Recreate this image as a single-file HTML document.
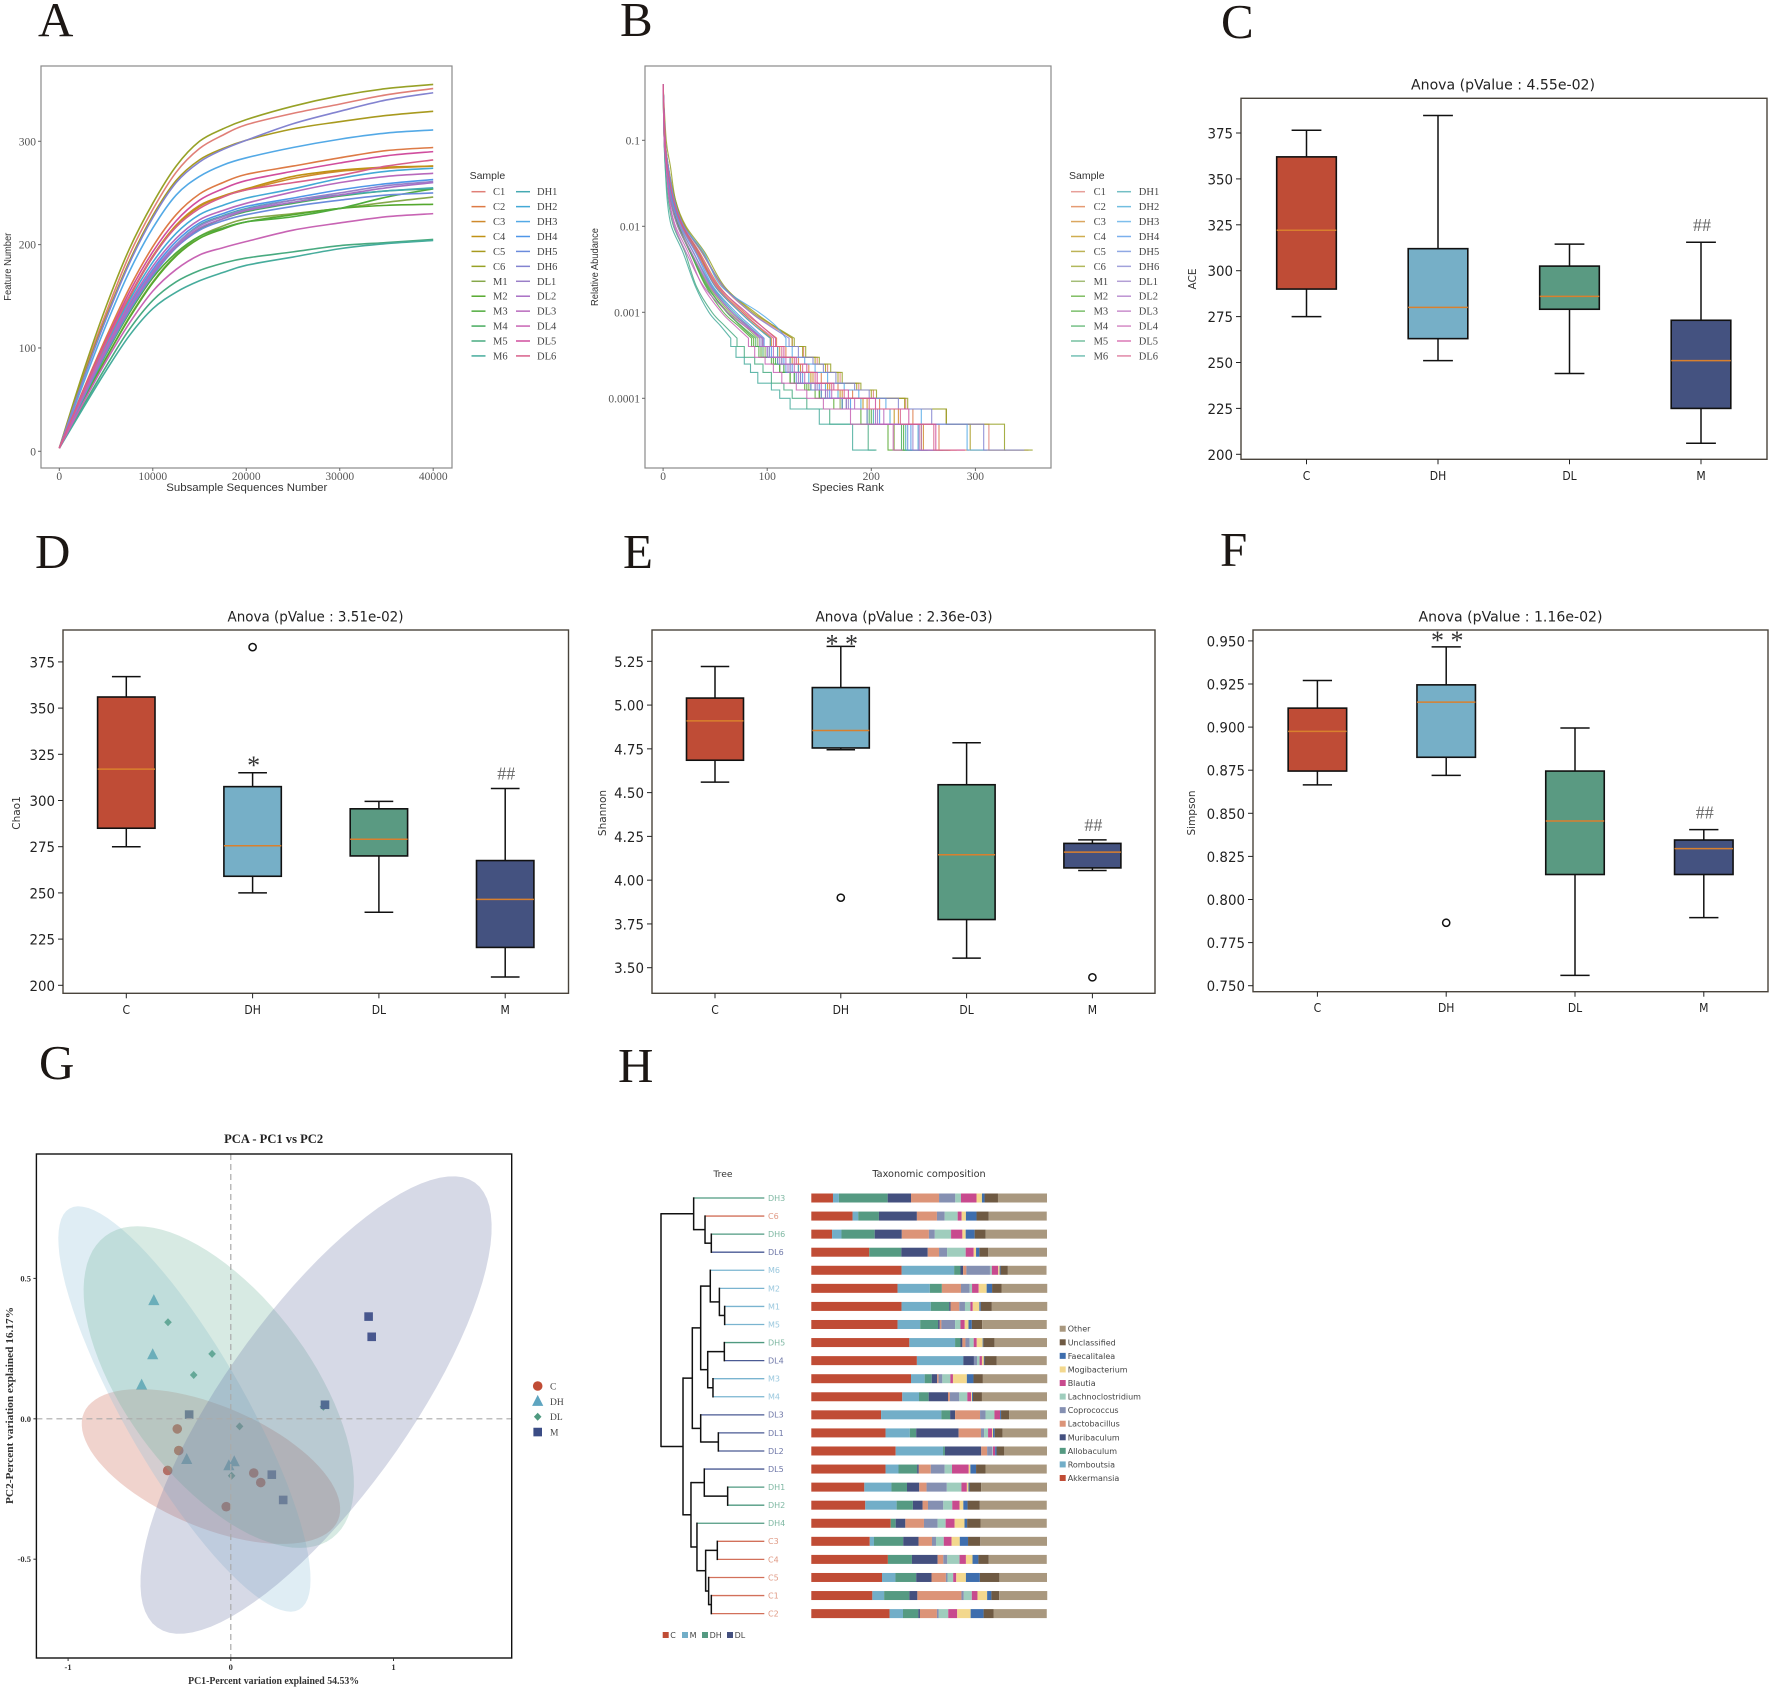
<!DOCTYPE html>
<html lang="en">
<head>
<meta charset="utf-8">
<title>Microbiome diversity figure panels A–H</title>
<style>
html,body{margin:0;padding:0;background:#fff;}
svg{display:block;filter:blur(0.35px);}
.serif{font-family:"Liberation Serif",serif;}
.sans{font-family:"Liberation Sans",sans-serif;}
.dj{font-family:"DejaVu Sans",sans-serif;}
.letter{font-family:"Liberation Serif",serif;font-size:49px;fill:#1c1714;}
</style>
</head>
<body>
<svg id="figure" xmlns="http://www.w3.org/2000/svg" width="1772" height="1689" viewBox="0 0 1772 1689">
<rect x="0" y="0" width="1772" height="1689" fill="#fff"/>
<text class="letter" x="38" y="36">A</text>
<text class="letter" x="620" y="36">B</text>
<text class="letter" x="1221" y="38">C</text>
<text class="letter" x="35" y="568">D</text>
<text class="letter" x="623" y="568">E</text>
<text class="letter" x="1220" y="566">F</text>
<text class="letter" x="39" y="1079">G</text>
<text class="letter" x="618" y="1082">H</text>

<text class="sans" x="246.8" y="491" text-anchor="middle" font-size="11" fill="#333" textLength="161" lengthAdjust="spacingAndGlyphs">Subsample Sequences Number</text>
<text class="sans" transform="translate(11,266.7) rotate(-90)" text-anchor="middle" font-size="10" fill="#333" textLength="68" lengthAdjust="spacingAndGlyphs">Feature Number</text>
<text class="sans" x="469.6" y="179" font-size="10.5" fill="#333">Sample</text>
<text class="sans" x="848" y="491" text-anchor="middle" font-size="11" fill="#333" textLength="72" lengthAdjust="spacingAndGlyphs">Species Rank</text>
<text class="sans" transform="translate(598,267) rotate(-90)" text-anchor="middle" font-size="10" fill="#333" textLength="78" lengthAdjust="spacingAndGlyphs">Relative Abudance</text>
<text class="sans" x="1069" y="179" font-size="10.5" fill="#333">Sample</text>

<text class="dj" x="1503" y="89.5" text-anchor="middle" font-size="14.5" fill="#222" textLength="184" lengthAdjust="spacingAndGlyphs">Anova (pValue : 4.55e-02)</text>
<text class="dj" transform="translate(1196,279) rotate(-90)" text-anchor="middle" font-size="10.5" fill="#333">ACE</text>
<text class="dj" x="315.5" y="621.5" text-anchor="middle" font-size="14.5" fill="#222" textLength="176" lengthAdjust="spacingAndGlyphs">Anova (pValue : 3.51e-02)</text>
<text class="dj" transform="translate(20,813) rotate(-90)" text-anchor="middle" font-size="10.5" fill="#333">Chao1</text>
<text class="dj" x="904" y="621.5" text-anchor="middle" font-size="14.5" fill="#222" textLength="177" lengthAdjust="spacingAndGlyphs">Anova (pValue : 2.36e-03)</text>
<text class="dj" transform="translate(606,813) rotate(-90)" text-anchor="middle" font-size="10.5" fill="#333">Shannon</text>
<text class="dj" x="1510.5" y="621.5" text-anchor="middle" font-size="14.5" fill="#222" textLength="184" lengthAdjust="spacingAndGlyphs">Anova (pValue : 1.16e-02)</text>
<text class="dj" transform="translate(1195,813) rotate(-90)" text-anchor="middle" font-size="10.5" fill="#333">Simpson</text>

<text class="serif" x="273.6" y="1143" text-anchor="middle" font-size="13" font-weight="bold" fill="#222" textLength="99" lengthAdjust="spacingAndGlyphs">PCA - PC1 vs PC2</text>
<text class="serif" x="273.6" y="1684" text-anchor="middle" font-size="10.5" font-weight="bold" fill="#333" textLength="171" lengthAdjust="spacingAndGlyphs">PC1-Percent variation explained 54.53%</text>
<text class="serif" transform="translate(13,1405.5) rotate(-90)" text-anchor="middle" font-size="10.5" font-weight="bold" fill="#333" textLength="197" lengthAdjust="spacingAndGlyphs">PC2-Percent variation explained 16.17%</text>

<text class="dj" x="723" y="1177" text-anchor="middle" font-size="9.2" fill="#333">Tree</text>
<text class="dj" x="929" y="1177" text-anchor="middle" font-size="9.7" fill="#333">Taxonomic composition</text>
</svg>

<script>
/* ---------- Panel A: rarefaction curves ---------- */
const sampleNames = ['C1','C2','C3','C4','C5','C6','M1','M2','M3','M4','M5','M6','DH1','DH2','DH3','DH4','DH5','DH6','DL1','DL2','DL3','DL4','DL5','DL6'];
const sampleColors = ['#e07f77','#dd7a45','#cf8a2c','#c09216','#a89a1e','#97a126','#86a84a','#55a82e','#4fab3c','#47ab5e','#48aa80','#46ac9c','#45aab2','#43a9d6','#53a9e6','#4f96e8','#6a8bdc','#8383d0','#9a7fc8','#a86fc4','#b869bc','#c864b4','#d04d9e','#d8608a'];
const rarefactionDepths = [0,2500,5000,7500,10000,12500,15000,17500,20000,25000,30000,35000,40000];
const rarefactionC1  = [3,72,134,190,234,270,293,306,316,327,336,345,351];
const rarefactionC2  = [3,58,110,158,198,229,249,260,268,276,284,291,294];
const rarefactionC3  = [3,56,105,150,189,219,238,247,253,264,271,274,276];
const rarefactionC4  = [3,55,104,149,188,218,237,247,254,266,272,275,276];
const rarefactionC5  = [3,70,130,184,228,262,282,293,301,312,319,325,329];
const rarefactionC6  = [3,75,140,196,240,276,300,312,321,334,344,351,355];
const rarefactionM1  = [3,48,90,130,164,190,208,218,225,230,235,241,246];
const rarefactionM2  = [3,48,90,129,163,189,206,215,222,229,235,238,239];
const rarefactionM3  = [3,50,94,134,168,192,208,216,222,227,235,246,254];
const rarefactionM4  = [3,50,94,135,170,198,215,225,232,240,247,252,254];
const rarefactionM5  = [3,43,82,118,146,164,175,182,187,193,199,202,205];
const rarefactionM6  = [3,41,78,112,138,154,165,173,180,188,196,201,204];
const rarefactionDH1 = [3,50,95,136,172,200,219,228,235,243,248,252,255];
const rarefactionDH2 = [3,54,102,146,183,211,229,238,245,254,264,271,274];
const rarefactionDH3 = [3,64,122,174,216,248,266,277,284,294,302,308,311];
const rarefactionDH4 = [3,53,99,141,176,203,221,230,237,245,253,259,263];
const rarefactionDH5 = [3,51,96,136,170,197,214,223,229,237,243,248,250];
const rarefactionDH6 = [3,68,128,182,226,260,280,292,301,317,329,340,347];
const rarefactionDL1 = [3,52,98,139,174,200,218,227,234,243,250,257,261];
const rarefactionDL2 = [3,52,97,138,172,198,216,225,233,241,248,255,260];
const rarefactionDL3 = [3,54,100,143,179,206,224,233,240,251,260,266,269];
const rarefactionDL4 = [3,46,87,124,155,176,190,197,203,214,221,227,230];
const rarefactionDL5 = [3,57,107,154,193,223,243,254,262,271,279,286,290];
const rarefactionDL6 = [3,56,105,150,188,217,235,246,253,260,267,276,282];
const rarefactionSeries = [rarefactionC1,rarefactionC2,rarefactionC3,rarefactionC4,rarefactionC5,rarefactionC6,rarefactionM1,rarefactionM2,rarefactionM3,rarefactionM4,rarefactionM5,rarefactionM6,rarefactionDH1,rarefactionDH2,rarefactionDH3,rarefactionDH4,rarefactionDH5,rarefactionDH6,rarefactionDL1,rarefactionDL2,rarefactionDL3,rarefactionDL4,rarefactionDL5,rarefactionDL6];
const rarefactionXTicks = [0,10000,20000,30000,40000];
const rarefactionYTicks = [0,100,200,300];

/* ---------- Panel B: rank abundance ---------- */
const rankStartAbundance = 0.45;
const rankAbundanceLevels = [0.1,0.05,0.02,0.01,0.005,0.002,0.001,0.0007,0.0005,0.0004,0.0003,0.00025,0.0002,0.00015,0.000125,0.0001,0.000075,0.00005,0.000025];
const rankC1  = [2,5,11,21,37,57,84,104,124,135,148,158,170,188,202,233,272,313,351];
const rankC2  = [2,4,10,19,35,54,78,94,109,118,130,140,152,168,182,208,240,265,294];
const rankC3  = [2,4,10,18,33,52,76,90,104,112,124,132,144,160,172,196,226,250,276];
const rankC4  = [2,5,11,19,34,50,74,88,103,110,122,130,142,158,170,192,222,248,276];
const rankC5  = [2,5,12,21,38,58,88,106,124,134,146,156,168,186,200,232,272,295,329];
const rankC6  = [3,7,12,22,40,59,86,106,126,137,150,161,172,190,205,235,272,328,355];
const rankM1  = [1,3,8,15,27,44,64,78,91,98,110,116,126,140,150,170,196,222,246];
const rankM2  = [1,3,8,15,26,42,62,74,87,94,106,112,122,136,146,164,190,216,239];
const rankM3  = [1,3,7,14,26,41,58,72,85,92,104,112,122,138,150,172,200,231,254];
const rankM4  = [2,3,8,15,26,43,61,75,89,96,108,116,126,142,152,172,198,229,254];
const rankM5  = [1,2,5,10,21,32,47,59,71,78,88,96,104,116,124,138,160,197,205];
const rankM6  = [1,2,4,8,19,31,44,55,65,70,78,84,91,104,112,122,150,182,204];
const rankDH1 = [2,3,9,16,29,47,68,82,95,102,114,122,132,146,156,176,202,233,255];
const rankDH2 = [2,4,9,18,32,50,74,88,103,110,122,130,140,156,168,190,218,245,274];
const rankDH3 = [2,5,11,20,39,56,92,108,118,124,136,146,158,174,188,214,248,292,311];
const rankDH4 = [2,4,9,17,31,48,70,84,97,104,116,124,134,150,160,180,208,238,263];
const rankDH5 = [2,3,8,16,29,46,66,80,93,100,110,118,128,142,152,172,196,235,250];
const rankDH6 = [2,5,11,20,37,58,84,102,121,130,144,154,166,184,198,226,258,308,347];
const rankDL1 = [2,3,8,16,29,46,66,81,95,102,114,122,132,148,158,178,206,240,261];
const rankDL2 = [2,3,7,14,27,45,66,80,93,100,112,120,130,146,156,176,204,246,260];
const rankDL3 = [1,3,6,11,22,39,62,78,96,106,118,126,136,152,162,184,212,248,269];
const rankDL4 = [1,3,6,12,24,38,56,69,82,88,98,106,114,128,138,154,180,221,230];
const rankDL5 = [2,4,10,19,34,53,80,94,108,116,128,138,148,164,178,204,236,262,290];
const rankDL6 = [2,4,10,18,32,51,76,91,106,114,126,134,146,162,174,198,228,260,282];
const rankSeries = [rankC1,rankC2,rankC3,rankC4,rankC5,rankC6,rankM1,rankM2,rankM3,rankM4,rankM5,rankM6,rankDH1,rankDH2,rankDH3,rankDH4,rankDH5,rankDH6,rankDL1,rankDL2,rankDL3,rankDL4,rankDL5,rankDL6];
const rankXTicks = [0,100,200,300];
const rankYTicks = [0.1,0.01,0.001,0.0001];
const rankYTickLabels = ['0.1','0.01','0.001','0.0001'];

/* ---------- Panels C–F: box plots ---------- */
const boxCategories = ['C','DH','DL','M'];
const boxColors = ['#bf4c36','#76afc7','#5a9a82','#445280'];

const aceLow = [275,251,244,206];
const aceQ1 = [290,263,279,225];
const aceMedian = [322,280,286,251];
const aceQ3 = [362,312,302.5,273];
const aceHigh = [376.5,384.5,314.5,315.5];
const aceOutliers = [[],[],[],[]];
const aceTicks = [200,225,250,275,300,325,350,375];
const aceTickLabels = ['200','225','250','275','300','325','350','375'];
const aceMarks = ['','','','##'];
const aceMarkValues = [0,0,0,325];

const chaoLow = [275,250,239.5,204.5];
const chaoQ1 = [285,259,270,220.5];
const chaoMedian = [317,275.5,279,246.5];
const chaoQ3 = [356,307.5,295.5,267.5];
const chaoHigh = [367,315,299.5,306.5];
const chaoOutliers = [[],[383],[],[]];
const chaoTicks = [200,225,250,275,300,325,350,375];
const chaoTickLabels = ['200','225','250','275','300','325','350','375'];
const chaoMarks = ['','*','','##'];
const chaoMarkValues = [0,322,0,314.5];

const shannonLow = [4.56,4.745,3.555,4.055];
const shannonQ1 = [4.685,4.755,3.775,4.07];
const shannonMedian = [4.91,4.855,4.145,4.16];
const shannonQ3 = [5.04,5.10,4.545,4.21];
const shannonHigh = [5.22,5.335,4.785,4.23];
const shannonOutliers = [[],[3.90],[],[3.445]];
const shannonTicks = [3.5,3.75,4,4.25,4.5,4.75,5,5.25];
const shannonTickLabels = ['3.50','3.75','4.00','4.25','4.50','4.75','5.00','5.25'];
const shannonMarks = ['','* *','','##'];
const shannonMarkValues = [0,5.38,0,4.315];

const simpsonLow = [0.8665,0.872,0.756,0.7895];
const simpsonQ1 = [0.8745,0.8825,0.8145,0.8145];
const simpsonMedian = [0.8975,0.9145,0.8455,0.8295];
const simpsonQ3 = [0.911,0.9245,0.8745,0.8345];
const simpsonHigh = [0.927,0.9465,0.8995,0.8405];
const simpsonOutliers = [[],[0.7865],[],[]];
const simpsonTicks = [0.75,0.775,0.8,0.825,0.85,0.875,0.9,0.925,0.95];
const simpsonTickLabels = ['0.750','0.775','0.800','0.825','0.850','0.875','0.900','0.925','0.950'];
const simpsonMarks = ['','* *','','##'];
const simpsonMarkValues = [0,0.9535,0,0.8505];

/* ---------- Panel G: PCA ---------- */
const pcaGroups = ['C','DH','DL','M'];
const pcaColors = ['#c04c35','#5ea5c0','#4f9a80','#3b4c85'];
const pcaFills = ['#c8604a','#8cc0d6','#6fb39b','#6a76a6'];
const pcaPc1C = [-0.329,-0.32,-0.388,0.141,0.184,-0.028];
const pcaPc2C = [-0.036,-0.113,-0.184,-0.193,-0.227,-0.313];
const pcaPc1DH = [-0.473,-0.48,-0.548,-0.271,-0.012,0.021];
const pcaPc2DH = [0.421,0.228,0.12,-0.145,-0.167,-0.153];
const pcaPc1DL = [-0.386,-0.115,-0.228,0.054,0.005,0.569];
const pcaPc2DL = [0.344,0.231,0.156,-0.027,-0.203,0.043];
const pcaPc1M = [0.847,0.866,0.579,-0.256,0.252,0.322];
const pcaPc2M = [0.364,0.292,0.05,0.015,-0.199,-0.289];
const pcaPc1 = [pcaPc1C,pcaPc1DH,pcaPc1DL,pcaPc1M];
const pcaPc2 = [pcaPc2C,pcaPc2DH,pcaPc2DL,pcaPc2M];
const ellipseCentreX = [-0.122,-0.285,-0.074,0.524];
const ellipseCentreY = [-0.170,0.035,0.113,0.049];
const ellipseMajorX = [0.781,0.706,0.697,0.976];
const ellipseMajorY = [-0.191,-0.714,-0.538,0.792];
const ellipseMinorX = [0.145,0.32,0.452,0.461];
const ellipseMinorY = [0.199,0.106,0.197,-0.191];
const pcaXTicks = [-1,0,1];
const pcaYTicks = [0.5,0,-0.5];
const pcaYTickLabels = ['0.5','0.0','-0.5'];

/* ---------- Panel H: dendrogram + composition ---------- */
const taxa = ['Akkermansia','Romboutsia','Allobaculum','Muribaculum','Lactobacillus','Coprococcus','Lachnoclostridium','Blautia','Mogibacterium','Faecalitalea','Unclassified','Other'];
const taxaColors = ['#c04c35','#72aec8','#559a82','#44507f','#dc9478','#8590b2','#9fcdbd','#c84a8e','#f3d88e','#3e6eae','#6f5a43','#a9987f'];
const compositionSamples = ['DH3','C6','DH6','DL6','M6','M2','M1','M5','DH5','DL4','M3','M4','DL3','DL1','DL2','DL5','DH1','DH2','DH4','C3','C4','C5','C1','C2'];
const compDH3 = [9.2,2.5,20.7,9.9,11.9,6.9,2.4,6.6,2.3,1.1,5.7,20.8];
const compC6 = [17.5,2.4,8.8,16.1,8.5,3.3,5.5,1.7,1.8,4.5,5.2,24.6];
const compDH6 = [8.8,4.0,14.1,11.5,11.5,2.5,6.9,4.8,1.4,3.8,4.7,26.0];
const compDL6 = [24.6,0,13.6,11.2,4.8,3.4,7.9,3.4,1.0,1.4,3.8,24.9];
const compM6 = [38.3,22.3,2.7,1.1,1.4,10.0,0.8,2.7,0.6,0.4,3.1,16.4];
const compM2 = [36.6,13.7,5.1,0,8.1,3.7,1.0,2.8,3.4,2.3,4.0,19.4];
const compM1 = [38.3,12.4,7.8,0.6,3.7,2.4,2.3,1.0,2.8,0.6,4.7,23.5];
const compM5 = [36.6,9.6,7.6,0.7,0.7,5.8,2.3,1.8,1.6,1.4,4.4,27.4];
const compDH5 = [41.6,19.4,2.3,0.8,1.3,1.8,1.7,1.3,2.5,0.3,4.7,22.3];
const compDL4 = [44.8,19.7,0,4.5,0,1.3,1.1,1.0,0.8,0.3,5.2,21.2];
const compM3 = [42.3,5.8,3.0,2.3,0.6,1.6,3.4,1.1,5.9,2.8,4.0,27.3];
const compM4 = [38.6,7.1,4.1,8.2,0.8,4.0,3.4,1.6,0.4,0.4,3.8,27.6];
const compDL3 = [29.6,25.6,3.7,2.1,10.6,2.3,3.8,2.4,0,0.4,3.4,16.1];
const compDL1 = [31.5,10.3,2.7,18.0,9.5,1.3,1.7,1.7,0.4,0.7,3.3,19.0];
const compDL2 = [35.8,20.1,0.8,15.4,2.5,2.1,0.3,1.0,0,0.6,3.3,18.1];
const compDL5 = [31.5,5.5,7.9,0.7,5.1,5.9,3.1,7.1,0.7,2.4,4.0,26.0];
const compDH1 = [22.5,11.5,6.6,5.2,3.1,8.6,6.2,2.3,0.7,0.4,5.0,27.9];
const compDH2 = [22.9,13.3,6.9,4.1,2.3,6.5,3.8,3.1,1.6,1.8,5.2,28.4];
const compDH4 = [33.7,0,2.1,4.1,7.9,5.8,3.4,3.8,4.2,1.1,5.7,28.1];
const compC3 = [24.8,1.8,12.4,6.5,5.7,1.7,3.3,3.3,3.5,3.5,5.2,28.3];
const compC4 = [32.5,0,10.2,10.9,2.4,1.7,5.2,2.7,2.8,2.5,4.4,24.6];
const compC5 = [30.0,5.7,8.8,6.5,6.1,0.7,2.4,1.3,4.1,5.9,8.3,20.2];
const compC1 = [25.9,5.0,10.7,3.4,18.7,1.0,3.4,2.4,4.1,1.8,3.3,20.4];
const compC2 = [33.2,5.7,6.5,0.7,7.2,0.8,4.0,3.8,5.7,5.5,4.2,22.6];
const compositionValues = [compDH3,compC6,compDH6,compDL6,compM6,compM2,compM1,compM5,compDH5,compDL4,compM3,compM4,compDL3,compDL1,compDL2,compDL5,compDH1,compDH2,compDH4,compC3,compC4,compC5,compC1,compC2];
/* nested clusters: [merge distance, left child, right child] */
const treeClusters = [1.00,
  [0.684,'DH3',[0.574,'C6',[0.513,'DH6','DL6']]],
  [0.787,
    [0.697,
      [0.616,
        [0.523,'M6',[0.435,'M2',[0.384,'M1','M5']]],
        [0.548,[0.387,'DH5','DL4'],[0.497,'M3','M4']]],
      [0.616,'DL3',[0.445,'DL1','DL2']]],
    [0.71,
      [0.581,'DL5',[0.355,'DH1','DH2']],
      [0.652,'DH4',[0.568,[0.455,'C3','C4'],[0.539,'C5',[0.513,'C1','C2']]]]]]];
const treeGroups = ['C','M','DH','DL'];
const treeGroupColors = ['#c04c35','#72aec8','#559a82','#44507f'];
const treeLineColors = {C:'#d2705a',M:'#7ab4d0',DH:'#4f9a80',DL:'#4a5a94'};
const treeLabelColors = {C:'#e09a85',M:'#9ac8de',DH:'#7fb8a3',DL:'#6f78a8'};

/* ---------- Drawing helpers ---------- */
const SVGNS = 'http://www.w3.org/2000/svg';
const root = document.getElementById('figure');
function mk(tag, attrs, text){
  const el = document.createElementNS(SVGNS, tag);
  for (const k in attrs) el.setAttribute(k, attrs[k]);
  if (text !== undefined) el.textContent = text;
  root.appendChild(el);
  return el;
}
function tallText(el, size){
  const w = el.getComputedTextLength();
  el.setAttribute('textLength', w.toFixed(2));
  el.setAttribute('lengthAdjust', 'spacingAndGlyphs');
  el.setAttribute('font-size', size);
}
function smoothPath(pts){
  let d = 'M' + pts[0][0].toFixed(2) + ' ' + pts[0][1].toFixed(2);
  for (let i = 0; i < pts.length - 1; i++){
    const p0 = pts[Math.max(i-1,0)], p1 = pts[i], p2 = pts[i+1], p3 = pts[Math.min(i+2,pts.length-1)];
    const c1x = p1[0] + (p2[0]-p0[0])/6, c1y = p1[1] + (p2[1]-p0[1])/6;
    const c2x = p2[0] - (p3[0]-p1[0])/6, c2y = p2[1] - (p3[1]-p1[1])/6;
    d += 'C' + c1x.toFixed(2) + ' ' + c1y.toFixed(2) + ' ' + c2x.toFixed(2) + ' ' + c2y.toFixed(2) + ' ' + p2[0].toFixed(2) + ' ' + p2[1].toFixed(2);
  }
  return d;
}
function sampleLegend(prefix, lineX, labelX, col2LineX, col2LabelX, opacity){
  sampleNames.forEach(function(name, i){
    const col = i < 12 ? 0 : 1;
    const row = i % 12;
    const y = 191.7 + row * 14.93;
    const lx = col ? col2LineX : lineX;
    const tx = col ? col2LabelX : labelX;
    const key = mk('line', {x1:lx, x2:lx+14, y1:y, y2:y, stroke:sampleColors[i], 'stroke-width':1.5, opacity:opacity});
    
    
    const label = mk('text', {x:tx, y:y+3.5, 'font-family':'"Liberation Serif",serif', 'font-size':10.5, fill:'#444'}, name);
    
    
  });
}

/* ---------- Panel A ---------- */
const xA = v => 59.3 + v * (433.2 - 59.3) / 40000;
const yA = v => 451.3 - v * (451.3 - 141.3) / 300;
function drawRarefaction(){
  const frame = mk('rect', {x:41, y:66, width:411, height:402, fill:'#fff', stroke:'#8a8a8a', 'stroke-width':1.2});
  
  
  rarefactionXTicks.forEach(function(t){
    const tick = mk('line', {x1:xA(t), x2:xA(t), y1:468, y2:471, stroke:'#666', 'stroke-width':1});
    
    
    const label = mk('text', {x:xA(t), y:480, 'text-anchor':'middle', 'font-family':'"Liberation Serif",serif', 'font-size':11.5, fill:'#555'}, String(t));
    
    
  });
  rarefactionYTicks.forEach(function(t){
    const tick = mk('line', {x1:38, x2:41, y1:yA(t), y2:yA(t), stroke:'#666', 'stroke-width':1});
    
    
    const label = mk('text', {x:36, y:yA(t)+4, 'text-anchor':'end', 'font-family':'"Liberation Serif",serif', 'font-size':11.5, fill:'#555'}, String(t));
    
    
  });
  rarefactionSeries.forEach(function(series, i){
    const pts = series.map((v, j) => [xA(rarefactionDepths[j]), yA(v)]);
    const curve = mk('path', {d:smoothPath(pts), fill:'none', stroke:sampleColors[i], 'stroke-width':1.6});
    
    
  });
  sampleLegend('a', 471.5, 493, 516, 537, 1);
}
drawRarefaction();

/* ---------- Panel B ---------- */
const xB = r => 663.1 + r * 1.041;
const yB = a => 140.3 + (-1 - Math.log10(a)) * 86;
function drawRank(){
  const frame = mk('rect', {x:645, y:66, width:406, height:402, fill:'#fff', stroke:'#8a8a8a', 'stroke-width':1.2});
  
  
  rankXTicks.forEach(function(t){
    const tick = mk('line', {x1:xB(t), x2:xB(t), y1:468, y2:471, stroke:'#666', 'stroke-width':1});
    
    
    const label = mk('text', {x:xB(t), y:480, 'text-anchor':'middle', 'font-family':'"Liberation Serif",serif', 'font-size':11.5, fill:'#555'}, String(t));
    
    
  });
  rankYTicks.forEach(function(t, i){
    const tick = mk('line', {x1:642, x2:645, y1:yB(t), y2:yB(t), stroke:'#666', 'stroke-width':1});
    
    
    const label = mk('text', {x:640, y:yB(t)+4, 'text-anchor':'end', 'font-family':'"Liberation Serif",serif', 'font-size':11.5, fill:'#555'}, rankYTickLabels[i]);
    
    
  });
  rankSeries.forEach(function(series, i){
    const smooth = [[xB(0), yB(rankStartAbundance)]];
    let steps = '';
    series.forEach(function(rank, j){
      const level = rankAbundanceLevels[j];
      if (level >= 0.0005){
        smooth.push([xB(rank), yB(level)]);
      } else {
        steps += 'V' + yB(level).toFixed(1) + 'H' + xB(rank).toFixed(1);
      }
    });
    const line = mk('path', {d:smoothPath(smooth) + steps, fill:'none', stroke:sampleColors[i], 'stroke-width':1.1, 'stroke-opacity':0.85});
    
    
  });
  sampleLegend('b', 1071, 1093.6, 1117, 1138.8, 0.75);
}
drawRank();

/* ---------- Panels C–F ---------- */
function drawBoxPanel(p){
  const y = v => p.y0 + (v - p.v0) * p.k;
  const x = i => p.x0 + i * p.step;
  const frame = mk('rect', {x:p.left, y:p.top, width:p.right-p.left, height:p.bottom-p.top, fill:'#fff', stroke:'#4a443c', 'stroke-width':1.4});
  
  
  p.ticks.forEach(function(t, i){
    const tick = mk('line', {x1:p.left-5, x2:p.left, y1:y(t), y2:y(t), stroke:'#222', 'stroke-width':1});
    
    
    const label = mk('text', {x:p.left-8, y:y(t)+5.5, 'text-anchor':'end', 'font-family':'"DejaVu Sans",sans-serif', 'font-size':13.4, fill:'#222'}, p.tickLabels[i]);
    
    
    tallText(label, 14.6);
  });
  boxCategories.forEach(function(cat, i){
    const cx = x(i);
    const half = p.boxW / 2;
    const capHalf = p.boxW / 4;
    const lname = cat.toLowerCase();
    const tick = mk('line', {x1:cx, x2:cx, y1:p.bottom, y2:p.bottom+5, stroke:'#222', 'stroke-width':1});
    
    
    const label = mk('text', {x:cx, y:p.bottom+20.5, 'text-anchor':'middle', 'font-family':'"DejaVu Sans",sans-serif', 'font-size':10.8, fill:'#222'}, cat);
    
    
    tallText(label, 12.4);
    const whisker = mk('line', {x1:cx, x2:cx, y1:y(p.high[i]), y2:y(p.low[i]), stroke:'#111', 'stroke-width':1.5});
    
    
    const capHigh = mk('line', {x1:cx-capHalf, x2:cx+capHalf, y1:y(p.high[i]), y2:y(p.high[i]), stroke:'#111', 'stroke-width':1.5});
    
    
    const capLow = mk('line', {x1:cx-capHalf, x2:cx+capHalf, y1:y(p.low[i]), y2:y(p.low[i]), stroke:'#111', 'stroke-width':1.5});
    
    
    const box = mk('rect', {x:cx-half, y:y(p.q3[i]), width:p.boxW, height:y(p.q1[i])-y(p.q3[i]), fill:boxColors[i], stroke:'#111', 'stroke-width':1.6});
    
    
    const median = mk('line', {x1:cx-half, x2:cx+half, y1:y(p.median[i]), y2:y(p.median[i]), stroke:'#d9802e', 'stroke-width':1.5});
    
    
    p.outliers[i].forEach(function(v){
      const out = mk('circle', {cx:cx, cy:y(v), r:3.6, fill:'#fff', stroke:'#111', 'stroke-width':1.5});
      
      
    });
    if (p.marks[i]){
      const isHash = p.marks[i] === '##';
      const size = isHash ? 18 : 26;
      const my = y(p.markValues[i]) + (isHash ? 6 : 14);
      const mark = mk('text', {x:cx+1, y:my, 'text-anchor':'middle', 'font-family':'"Liberation Serif",serif', 'font-size':size, fill:isHash ? '#666' : '#333'}, p.marks[i]);
      
      
    }
  });
}
drawBoxPanel({id:'c', left:1241, right:1767, top:98.3, bottom:459.3, x0:1306.5, step:131.5, boxW:59.6, y0:454.3, v0:200, k:-45.9/25, ticks:aceTicks, tickLabels:aceTickLabels, low:aceLow, q1:aceQ1, median:aceMedian, q3:aceQ3, high:aceHigh, outliers:aceOutliers, marks:aceMarks, markValues:aceMarkValues});
drawBoxPanel({id:'d', left:63, right:568.5, top:630, bottom:993.3, x0:126.3, step:126.3, boxW:57.4, y0:985.3, v0:200, k:-46.2/25, ticks:chaoTicks, tickLabels:chaoTickLabels, low:chaoLow, q1:chaoQ1, median:chaoMedian, q3:chaoQ3, high:chaoHigh, outliers:chaoOutliers, marks:chaoMarks, markValues:chaoMarkValues});
drawBoxPanel({id:'e', left:652, right:1155, top:630, bottom:993.3, x0:715, step:125.8, boxW:57, y0:967.7, v0:3.5, k:-43.77/0.25, ticks:shannonTicks, tickLabels:shannonTickLabels, low:shannonLow, q1:shannonQ1, median:shannonMedian, q3:shannonQ3, high:shannonHigh, outliers:shannonOutliers, marks:shannonMarks, markValues:shannonMarkValues});
drawBoxPanel({id:'f', left:1253, right:1768, top:630, bottom:991.7, x0:1317.4, step:128.8, boxW:58.5, y0:985.7, v0:0.75, k:-43.1/0.025, ticks:simpsonTicks, tickLabels:simpsonTickLabels, low:simpsonLow, q1:simpsonQ1, median:simpsonMedian, q3:simpsonQ3, high:simpsonHigh, outliers:simpsonOutliers, marks:simpsonMarks, markValues:simpsonMarkValues});

/* ---------- Panel G ---------- */
const xG = v => 230.8 + v * 162.7;
const yG = v => 1418.8 - v * 280.8;
function pcaMarker(group, cx, cy, scale){
  const s = scale;
  if (group === 0) return mk('circle', {cx:cx, cy:cy, r:4.8*s, fill:pcaColors[0]});
  if (group === 1) return mk('path', {d:'M'+cx+' '+(cy-6.5*s)+'L'+(cx+5.6*s)+' '+(cy+4.5*s)+'L'+(cx-5.6*s)+' '+(cy+4.5*s)+'Z', fill:pcaColors[1]});
  if (group === 2) return mk('path', {d:'M'+cx+' '+(cy-4*s)+'L'+(cx+3.8*s)+' '+cy+'L'+cx+' '+(cy+4*s)+'L'+(cx-3.8*s)+' '+cy+'Z', fill:pcaColors[2]});
  return mk('rect', {x:cx-4.3*s, y:cy-4.3*s, width:8.6*s, height:8.6*s, fill:pcaColors[3]});
}
function drawPca(){
  const bg = mk('rect', {x:36.4, y:1154, width:475.3, height:504, fill:'#fff'});
  
  
  pcaGroups.forEach(function(group, g){
    pcaPc1[g].forEach(function(v, i){
      const m = pcaMarker(g, xG(v), yG(pcaPc2[g][i]), 1);
      
      
    });
  });
  pcaGroups.forEach(function(group, g){
    let d = '';
    for (let a = 0; a < 90; a++){
      const t = a / 90 * Math.PI * 2;
      const vx = ellipseCentreX[g] + ellipseMajorX[g] * Math.cos(t) + ellipseMinorX[g] * Math.sin(t);
      const vy = ellipseCentreY[g] + ellipseMajorY[g] * Math.cos(t) + ellipseMinorY[g] * Math.sin(t);
      d += (a ? 'L' : 'M') + xG(vx).toFixed(1) + ' ' + yG(vy).toFixed(1);
    }
    const ell = mk('path', {d:d + 'Z', fill:pcaFills[g], 'fill-opacity':0.28});
    
    
  });
  const vLine = mk('line', {x1:xG(0), x2:xG(0), y1:1154, y2:1658, stroke:'#aaa', 'stroke-width':1.2, 'stroke-dasharray':'6 4'});
  
  
  const hLine = mk('line', {x1:36.4, x2:511.7, y1:yG(0), y2:yG(0), stroke:'#aaa', 'stroke-width':1.2, 'stroke-dasharray':'6 4'});
  
  
  const frame = mk('rect', {x:36.4, y:1154, width:475.3, height:504, fill:'none', stroke:'#111', 'stroke-width':1.4});
  
  
  pcaXTicks.forEach(function(t){
    const tick = mk('line', {x1:xG(t), x2:xG(t), y1:1658, y2:1661, stroke:'#333', 'stroke-width':1});
    
    
    const label = mk('text', {x:xG(t), y:1670, 'text-anchor':'middle', 'font-family':'"Liberation Serif",serif', 'font-weight':'bold', 'font-size':8.5, fill:'#333'}, String(t));
    
    
  });
  pcaYTicks.forEach(function(t, i){
    const tick = mk('line', {x1:33.4, x2:36.4, y1:yG(t), y2:yG(t), stroke:'#333', 'stroke-width':1});
    
    
    const label = mk('text', {x:31, y:yG(t)+3, 'text-anchor':'end', 'font-family':'"Liberation Serif",serif', 'font-weight':'bold', 'font-size':8.5, fill:'#333'}, pcaYTickLabels[i]);
    
    
  });
  pcaGroups.forEach(function(group, g){
    const ly = 1386 + g * 15.35;
    const key = pcaMarker(g, 537.7, ly, 1);
    
    
    const label = mk('text', {x:550, y:ly+3.5, 'font-family':'"Liberation Serif",serif', 'font-size':9.5, fill:'#444'}, group);
    
    
  });
}
drawPca();

/* ---------- Panel H ---------- */
const xT = h => 640 + (373 - h * 310) / 3;
const yRow = r => 1198 + 18.07 * r;
const xBar = pct => 811.3 + pct * 2.357;
function groupOf(name){ return name.replace(/[0-9]/g, ''); }
function drawTreeNode(node){
  if (typeof node === 'string'){
    const row = compositionSamples.indexOf(node);
    const y = yRow(row);
    const g = groupOf(node);
    const label = mk('text', {x:768, y:y+2.9, 'font-family':'"DejaVu Sans",sans-serif', 'font-size':8, fill:treeLabelColors[g]}, node);
    
    
    return {y:y, h:0, leaf:g};
  }
  const left = drawTreeNode(node[1]);
  const right = drawTreeNode(node[2]);
  const h = node[0];
  const y = (left.y + right.y) / 2;
  [left, right].forEach(function(child){
    const branch = mk('line', {x1:xT(h), x2:xT(child.h), y1:child.y, y2:child.y, stroke:child.leaf ? treeLineColors[child.leaf] : '#111', 'stroke-width':child.leaf ? 1.3 : 1.5});
    
    
  });
  const joint = mk('line', {x1:xT(h), x2:xT(h), y1:left.y-0.7, y2:right.y+0.7, stroke:'#111', 'stroke-width':1.5});
  
  
  return {y:y, h:h, leaf:null};
}
function drawComposition(){
  compositionValues.forEach(function(values, r){
    let cumulative = 0;
    values.forEach(function(v, t){
      if (v > 0){
        const seg = mk('rect', {x:xBar(cumulative), y:yRow(r)-4.5, width:v*2.357, height:9, fill:taxaColors[t]});
        
        
      }
      cumulative += v;
    });
  });
  taxa.forEach(function(name, t){
    const ly = 1478 - t * 13.57;
    const key = mk('rect', {x:1059.7, y:ly-3, width:6, height:6, fill:taxaColors[t]});
    
    
    const label = mk('text', {x:1067.7, y:ly+3, 'font-family':'"DejaVu Sans",sans-serif', 'font-size':8, fill:'#444'}, name);
    
    
  });
  const keyX = [662.7,682,702,727];
  treeGroups.forEach(function(group, i){
    const key = mk('rect', {x:keyX[i], y:1632, width:6, height:6, fill:treeGroupColors[i]});
    
    
    const label = mk('text', {x:keyX[i]+7.6, y:1638, 'font-family':'"DejaVu Sans",sans-serif', 'font-size':8, fill:'#444'}, group);
    
    
  });
}
drawTreeNode(treeClusters);
drawComposition();
</script>
</body>
</html>
